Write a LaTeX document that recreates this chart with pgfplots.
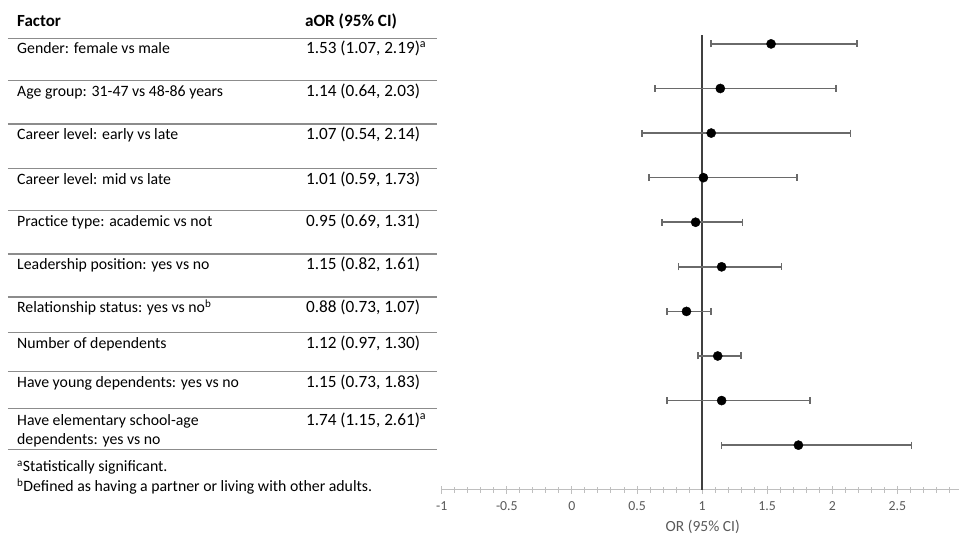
\documentclass[border=0pt]{standalone}
\usepackage{pgfplots}
\pgfplotsset{compat=1.18}
\usepackage{pgfplotstable}
\usepackage{fontspec}
\setmainfont{Carlito}
\definecolor{rulegray}{HTML}{8C8C8C}
\definecolor{axisgray}{HTML}{BFBFBF}
\definecolor{labelgray}{HTML}{595959}
\definecolor{bargray}{HTML}{6A6A6A}
\definecolor{refline}{HTML}{404040}
\pgfplotstableread{
pos or lo hi
10 1.53 1.07 2.19
9 1.14 0.64 2.03
8 1.07 0.54 2.14
7 1.01 0.59 1.73
6 0.95 0.69 1.31
5 1.15 0.82 1.61
4 0.88 0.73 1.07
3 1.12 0.97 1.30
2 1.15 0.73 1.83
1 1.74 1.15 2.61
}\ortable
\newcommand\tf{\fontsize{15.8}{19}\selectfont}
\newcommand\vf{\fontsize{17.2}{20}\selectfont}
\begin{document}
\begin{tikzpicture}
\path (0,0) rectangle (959pt,-540pt);
\begin{scope}[x=1pt,y=-1pt]
\tikzset{lab/.style={anchor=base west, inner sep=0pt, font=\tf, text=black},
         val/.style={anchor=base west, inner sep=0pt, font=\vf, text=black}}
% header
\node[lab, font=\fontsize{17}{20}\selectfont\bfseries] at (17,27) {Factor};
\node[lab, font=\vf\bfseries] at (305,27) {aOR (95\% CI)};
% rules
\foreach \yy in {38.3,80.7,124,168.3,210.7,254,297,332.7,371.7,409,450}
  \draw[rulegray, line width=1.4pt] (8,\yy) -- (437,\yy);
% rows
\node[lab] at (17,54) {Gender: female vs male};
\node[val] at (306,54) {1.53 (1.07, 2.19)\textsuperscript{a}};
\node[lab] at (17,96.7) {Age group: 31-47 vs 48-86 years};
\node[val] at (306,96.7) {1.14 (0.64, 2.03)};
\node[lab] at (17,140) {Career level: early vs late};
\node[val] at (306,140) {1.07 (0.54, 2.14)};
\node[lab] at (17,184.3) {Career level: mid vs late};
\node[val] at (306,184.3) {1.01 (0.59, 1.73)};
\node[lab] at (17,226.7) {Practice type: academic vs not};
\node[val] at (306,226.7) {0.95 (0.69, 1.31)};
\node[lab] at (17,270) {Leadership position: yes vs no};
\node[val] at (306,270) {1.15 (0.82, 1.61)};
\node[lab] at (17,313) {Relationship status: yes vs no\textsuperscript{b}};
\node[val] at (306,313) {0.88 (0.73, 1.07)};
\node[lab] at (17,348.7) {Number of dependents};
\node[val] at (306,348.7) {1.12 (0.97, 1.30)};
\node[lab] at (17,387.7) {Have young dependents: yes vs no};
\node[val] at (306,387.7) {1.15 (0.73, 1.83)};
\node[lab] at (17,425.5) {Have elementary school-age};
\node[lab] at (17,444.5) {dependents: yes vs no};
\node[val] at (306,425.5) {1.74 (1.15, 2.61)\textsuperscript{a}};
% footnotes
\node[lab] at (17,471.7) {\textsuperscript{a}Statistically significant.};
\node[lab] at (17,491.7) {\textsuperscript{b}Defined as having a partner or living with other adults.};
\end{scope}
\begin{axis}[
  at={(442pt,-490pt)}, anchor=south west,
  scale only axis, width=517pt, height=455pt,
  xmin=-1, xmax=2.97, ymin=0, ymax=10.2,
  axis x line*=bottom, axis y line=none,
  axis line style={draw=axisgray, line width=1pt},
  xtick={-1,-0.5,0,0.5,1,1.5,2,2.5},
  minor xtick={-0.9,-0.8,-0.7,-0.6,-0.4,-0.3,-0.2,-0.1,0.1,0.2,0.3,0.4,0.6,0.7,0.8,0.9,1.1,1.2,1.3,1.4,1.6,1.7,1.8,1.9,2.1,2.2,2.3,2.4,2.6,2.7,2.8,2.9},
  ytick=\empty,
  tick align=center,
  major tick length=8pt, minor tick length=6.5pt,
  major tick style={draw=axisgray, line width=1pt},
  minor tick style={draw=axisgray, line width=1pt},
  /pgf/number format/assume math mode=true,
  xticklabel style={font=\fontsize{13.8}{16}\selectfont, text=labelgray, yshift=-4pt},
  xlabel={OR (95\% CI)},
  xlabel style={font=\fontsize{15.5}{18}\selectfont, text=labelgray, at={(ticklabel cs:0.505)}, yshift=-3pt},
  clip=false,
]
\addplot[refline, line width=1.3pt, forget plot] coordinates {(1,0) (1,10.2)};
\addplot[only marks, mark=*, mark size=4.6pt, mark options={fill=black, draw=black},
  error bars/.cd, x dir=both, x explicit, error mark=|,
  error bar style={draw=bargray, line width=1.6pt},
  error mark options={draw=bargray, line width=1.6pt, mark size=3.5pt}]
  table[x=or, y=pos, x error plus expr=\thisrow{hi}-\thisrow{or}, x error minus expr=\thisrow{or}-\thisrow{lo}] {\ortable};
\end{axis}
\end{tikzpicture}
\end{document}
